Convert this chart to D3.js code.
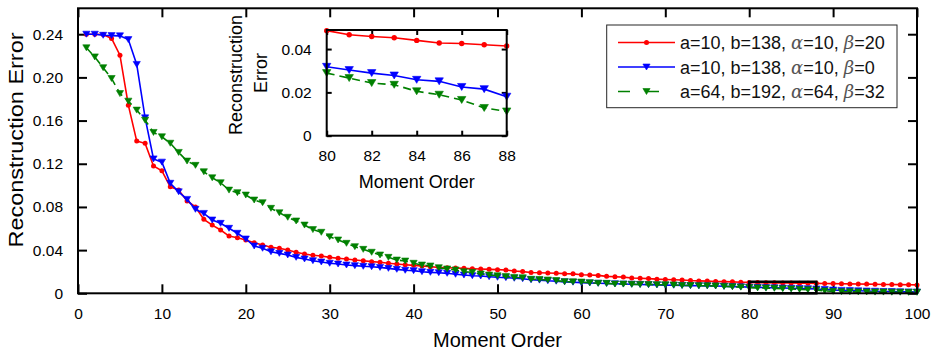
<!DOCTYPE html>
<html>
<head>
<meta charset="utf-8">
<script src="https://cdn.jsdelivr.net/npm/d3@7"></script>
<style>
  html, body { margin: 0; padding: 0; background: #fff; }
  svg { display: block; font-family: "Liberation Sans", Arial, sans-serif; }
</style>
</head>
<body>
<svg id="chart" width="938" height="355"></svg>
<script>
/* ---- data ---- */
const orders = d3.range(1, 101);   // moment order 1..100

const errRed = [
  0.2400, 0.2400, 0.2398, 0.2361, 0.2206, 0.1743, 0.1410, 0.1389, 0.1180, 0.1135,
  0.0987, 0.0956, 0.0855, 0.0800, 0.0685, 0.0632, 0.0586, 0.0530, 0.0515, 0.0494,
  0.0469, 0.0447, 0.0426, 0.0417, 0.0401, 0.0380, 0.0364, 0.0352, 0.0345, 0.0333,
  0.0324, 0.0318, 0.0308, 0.0302, 0.0293, 0.0287, 0.0278, 0.0271, 0.0265, 0.0259,
  0.0253, 0.0246, 0.0240, 0.0237, 0.0234, 0.0231, 0.0228, 0.0225, 0.0222, 0.0219,
  0.0216, 0.0206, 0.0201, 0.0193, 0.0190, 0.0188, 0.0186, 0.0182, 0.0180, 0.0172,
  0.0169, 0.0166, 0.0157, 0.0153, 0.0150, 0.0142, 0.0140, 0.0136, 0.0131, 0.0128,
  0.0125, 0.0123, 0.0118, 0.0115, 0.0113, 0.0110, 0.0108, 0.0106, 0.0103, 0.0101,
  0.0099, 0.0098, 0.0097, 0.0096, 0.0095, 0.0094, 0.0093, 0.0092, 0.0091, 0.0090,
  0.0088, 0.0087, 0.0086, 0.0085, 0.0084, 0.0082, 0.0081, 0.0080, 0.0079, 0.0078
];
const errBlue = [
  0.2400, 0.2400, 0.2390, 0.2387, 0.2385, 0.2350, 0.2120, 0.1625, 0.1245, 0.1215,
  0.1019, 0.0940, 0.0870, 0.0778, 0.0740, 0.0679, 0.0648, 0.0602, 0.0556, 0.0503,
  0.0438, 0.0417, 0.0385, 0.0370, 0.0355, 0.0333, 0.0318, 0.0302, 0.0290, 0.0278,
  0.0271, 0.0262, 0.0256, 0.0250, 0.0246, 0.0240, 0.0231, 0.0222, 0.0213, 0.0210,
  0.0200, 0.0194, 0.0191, 0.0185, 0.0176, 0.0169, 0.0163, 0.0160, 0.0154, 0.0148,
  0.0145, 0.0139, 0.0135, 0.0125, 0.0122, 0.0116, 0.0112, 0.0106, 0.0103, 0.0099,
  0.0096, 0.0093, 0.0091, 0.0088, 0.0086, 0.0084, 0.0082, 0.0080, 0.0078, 0.0076,
  0.0074, 0.0073, 0.0071, 0.0070, 0.0069, 0.0068, 0.0065, 0.0062, 0.0060, 0.0057,
  0.0055, 0.0053, 0.0051, 0.0049, 0.0047, 0.0045, 0.0043, 0.0040, 0.0035, 0.0030,
  0.0027, 0.0025, 0.0023, 0.0021, 0.0019, 0.0017, 0.0016, 0.0014, 0.0013, 0.0012
];
const errGreen = [
  0.2274, 0.2190, 0.2090, 0.1990, 0.1850, 0.1780, 0.1697, 0.1604, 0.1490, 0.1450,
  0.1390, 0.1305, 0.1225, 0.1185, 0.1126, 0.1070, 0.1024, 0.0956, 0.0932, 0.0910,
  0.0864, 0.0839, 0.0787, 0.0746, 0.0704, 0.0670, 0.0632, 0.0590, 0.0565, 0.0524,
  0.0494, 0.0463, 0.0432, 0.0407, 0.0380, 0.0355, 0.0333, 0.0308, 0.0299, 0.0278,
  0.0262, 0.0253, 0.0237, 0.0225, 0.0216, 0.0200, 0.0194, 0.0179, 0.0169, 0.0162,
  0.0156, 0.0147, 0.0144, 0.0130, 0.0128, 0.0123, 0.0118, 0.0108, 0.0106, 0.0104,
  0.0098, 0.0093, 0.0092, 0.0086, 0.0085, 0.0083, 0.0082, 0.0081, 0.0080, 0.0079,
  0.0077, 0.0073, 0.0072, 0.0070, 0.0069, 0.0068, 0.0064, 0.0061, 0.0057, 0.0053,
  0.0050, 0.0048, 0.0046, 0.0043, 0.0040, 0.0036, 0.0033, 0.0030, 0.0022, 0.0018,
  0.0015, 0.0014, 0.0013, 0.0012, 0.0011, 0.0011, 0.0010, 0.0010, 0.0009, 0.0009
];

// inset (zoom of orders 80..88)
const insetOrders = [80, 81, 82, 83, 84, 85, 86, 87, 88];
const insetRed   = [0.0485, 0.0466, 0.0458, 0.0452, 0.0440, 0.0428, 0.0426, 0.0420, 0.0414];
const insetBlue  = [0.0318, 0.0303, 0.0289, 0.0278, 0.0258, 0.0251, 0.0225, 0.0215, 0.0180];
const insetGreen = [0.0289, 0.0266, 0.0243, 0.0235, 0.0205, 0.0189, 0.0165, 0.0128, 0.0112];

const xTicks = [0, 10, 20, 30, 40, 50, 60, 70, 80, 90, 100];
const yTicks = [0, 0.04, 0.08, 0.12, 0.16, 0.20, 0.24];
const yTickLabels = ['0', '0.04', '0.08', '0.12', '0.16', '0.20', '0.24'];
const insetXTicks = [80, 82, 84, 86, 88];
const insetYTicks = [0, 0.02, 0.04];
const insetYTickLabels = ['0', '0.02', '0.04'];

// zoom window marked on the main plot: [order from, order to, error from, error to]
const zoomWindow = [80, 88, 0, 0.0107];

// legend: [a, b, alpha, beta]
const legendParams = [
  ['10', '138', '10', '20'],
  ['10', '138', '10', '0'],
  ['64', '192', '64', '32']
];

/* ---- setup ---- */
const svg = d3.select('#chart');
const BLACK = '#000';

const series = [
  { main: errRed,   inset: insetRed,   color: '#ff0000', marker: 'circle',   dash: null },
  { main: errBlue,  inset: insetBlue,  color: '#0000ff', marker: 'triangle', dash: null },
  { main: errGreen, inset: insetGreen, color: '#008000', marker: 'triangle', dash: '8,5' }
];

function drawMarker(sel, s, big) {
  if (s.marker === 'circle') {
    sel.append('circle').attr('r', big ? 2.7 : 2.5).attr('fill', s.color);
  } else {
    const w = big ? 4.2 : 3.6, h = big ? 3.5 : 3;
    sel.append('path')
      .attr('d', `M${-w},${-h}L${w},${-h}L0,${h}Z`)
      .attr('fill', s.color)
      .attr('stroke', s.color).attr('stroke-width', 0.6);
  }
}

function drawAxes(g, xS, yS, o) {
  const [x0, x1] = xS.range(), [y0, y1] = yS.range();

  g.append('rect')
    .attr('x', x0).attr('y', y1).attr('width', x1 - x0).attr('height', y0 - y1)
    .attr('fill', '#fff');

  const styleAxis = a => {
    a.select('.domain').remove();
    a.selectAll('line').attr('stroke', BLACK).attr('stroke-width', o.tickW);
    a.selectAll('text').attr('fill', BLACK).attr('font-size', o.fs)
      .attr('font-family', '"Liberation Sans", Arial, sans-serif');
  };

  g.append('g').attr('transform', `translate(0,${y0})`)
    .call(d3.axisBottom(xS).tickValues(o.xTicks).tickSize(-o.tick).tickPadding(o.padX)
      .tickFormat(d3.format('d')))
    .call(styleAxis);
  g.append('g').attr('transform', `translate(0,${y1})`)
    .call(d3.axisTop(xS).tickValues(o.xTicks).tickSize(-o.tick).tickFormat(''))
    .call(styleAxis);
  g.append('g').attr('transform', `translate(${x0},0)`)
    .call(d3.axisLeft(yS).tickValues(o.yTicks).tickSize(-o.tick).tickPadding(o.padY)
      .tickFormat((d, i) => o.yLabels[i]))
    .call(styleAxis);
  g.append('g').attr('transform', `translate(${x1},0)`)
    .call(d3.axisRight(yS).tickValues(o.yTicks).tickSize(-o.tick).tickFormat(''))
    .call(styleAxis);

  return () => g.append('rect')
    .attr('x', x0).attr('y', y1).attr('width', x1 - x0).attr('height', y0 - y1)
    .attr('fill', 'none').attr('stroke', BLACK).attr('stroke-width', o.boxW);
}

function drawSeries(g, xS, yS, xs, big) {
  series.forEach(s => {
    const vals = big ? s.inset : s.main;
    const pts = xs.map((x, i) => [x, vals[i]]);
    g.append('path')
      .attr('d', d3.line().x(d => xS(d[0])).y(d => yS(d[1]))(pts))
      .attr('fill', 'none').attr('stroke', s.color).attr('stroke-width', 1.6)
      .attr('stroke-dasharray', s.dash);
    g.selectAll(null).data(pts).enter().append('g')
      .attr('transform', d => `translate(${xS(d[0])},${yS(d[1])})`)
      .each(function () { drawMarker(d3.select(this), s, big); });
  });
}

/* ---- main plot ---- */
const x = d3.scaleLinear().domain([0, 100]).range([78, 917]);
const y = d3.scaleLinear().domain([0, 0.264]).range([293.3, 8.3]);

const main = svg.append('g');
const mainBox = drawAxes(main, x, y, {
  xTicks, yTicks, yLabels: yTickLabels, tick: 9, tickW: 2, boxW: 2,
  padX: 15, padY: 15, fs: 15.5
});
drawSeries(main, x, y, orders, false);
mainBox();

main.append('rect')
  .attr('x', x(zoomWindow[0])).attr('y', y(zoomWindow[3]))
  .attr('width', x(zoomWindow[1]) - x(zoomWindow[0]))
  .attr('height', y(zoomWindow[2]) - y(zoomWindow[3]))
  .attr('fill', 'none').attr('stroke', BLACK).attr('stroke-width', 2.5);

main.append('text')
  .attr('x', (78 + 917) / 2).attr('y', 347)
  .attr('text-anchor', 'middle').attr('font-size', 20)
  .text('Moment Order');

main.append('text')
  .attr('transform', 'translate(23,140) rotate(-90)')
  .attr('text-anchor', 'middle').attr('font-size', 20)
  .attr('textLength', 215).attr('lengthAdjust', 'spacingAndGlyphs')
  .text('Reconstruction Error');

/* ---- inset ---- */
const xi = d3.scaleLinear().domain([80, 88]).range([326.7, 506.7]);
const yi = d3.scaleLinear().domain([0, 0.0488]).range([135.7, 30]);

const inset = svg.append('g');
const insetBox = drawAxes(inset, xi, yi, {
  xTicks: insetXTicks, yTicks: insetYTicks, yLabels: insetYTickLabels,
  tick: 5, tickW: 2, boxW: 2, padX: 14, padY: 15, fs: 15.5
});
drawSeries(inset, xi, yi, insetOrders, true);
insetBox();

inset.append('text')
  .attr('x', (326.7 + 506.7) / 2).attr('y', 188)
  .attr('text-anchor', 'middle').attr('font-size', 18)
  .text('Moment Order');
inset.append('text')
  .attr('transform', 'translate(241.5,75) rotate(-90)')
  .attr('text-anchor', 'middle').attr('font-size', 18)
  .text('Reconstruction');
inset.append('text')
  .attr('transform', 'translate(267,73) rotate(-90)')
  .attr('text-anchor', 'middle').attr('font-size', 18)
  .text('Error');

/* ---- legend ---- */
const leg = svg.append('g');
leg.append('rect')
  .attr('x', 606.7).attr('y', 25).attr('width', 290.3).attr('height', 82.7)
  .attr('fill', '#fff').attr('stroke', '#262626').attr('stroke-width', 1);

const rowY = d3.scalePoint().domain(d3.range(3)).range([42.5, 91.5]);
series.forEach((s, i) => {
  const r = leg.append('g').attr('transform', `translate(0,${rowY(i)})`);
  r.append('line').attr('x1', 618).attr('x2', 675)
    .attr('stroke', s.color).attr('stroke-width', 1.6)
    .attr('stroke-dasharray', s.dash ? '12,17' : null);
  drawMarker(r.append('g').attr('transform', 'translate(646.5,0)'), s, false);

  const p = legendParams[i];
  const t = r.append('text').attr('x', 680).attr('y', 6.5).attr('font-size', 18).attr('fill', '#111');
  t.append('tspan').text(`a=${p[0]}, b=${p[1]}, `);
  t.append('tspan').attr('font-family', '"DejaVu Serif", serif').attr('font-style', 'italic')
    .attr('fill', '#555').text('α');
  t.append('tspan').text(`=${p[2]}, `);
  t.append('tspan').attr('font-family', '"DejaVu Serif", serif').attr('font-style', 'italic')
    .attr('fill', '#555').text('β');
  t.append('tspan').text(`=${p[3]}`);
});
</script>
</body>
</html>
